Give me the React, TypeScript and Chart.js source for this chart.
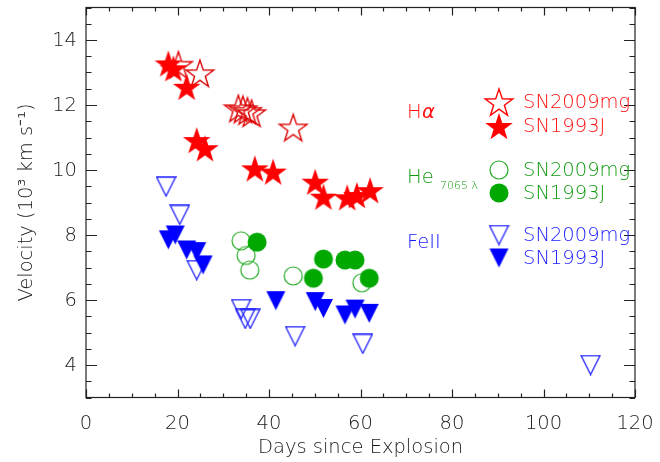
import React, { useEffect, useRef } from "react";
import { Chart, registerables } from "chart.js";

Chart.register(...registerables);

// ---------- data ----------
const haMgDays = [20.2, 24.9, 33.3, 34.3, 35.3, 36.2, 45.3];
const haMgVel = [13.24, 12.98, 11.9, 11.87, 11.82, 11.75, 11.31];
const haJDays = [18.0, 19.1, 22.0, 24.2, 26.0, 36.9, 40.9, 50.1, 51.9, 57.1, 59.2, 62.1];
const haJVel = [13.28, 13.13, 12.56, 10.92, 10.67, 10.05, 9.95, 9.64, 9.18, 9.16, 9.23, 9.38];

const heMgDays = [33.9, 35.0, 35.8, 45.3, 60.3];
const heMgVel = [7.82, 7.37, 6.92, 6.74, 6.53];
const heJDays = [37.4, 49.7, 51.9, 56.6, 58.8, 61.9];
const heJVel = [7.78, 6.67, 7.26, 7.23, 7.23, 6.67];

const feMgDays = [17.5, 20.5, 24.2, 33.9, 34.8, 35.9, 45.7, 60.5, 110.3];
const feMgVel = [9.49, 8.62, 6.92, 5.72, 5.42, 5.42, 4.89, 4.65, 4.0];
const feJDays = [18.0, 19.5, 22.0, 24.2, 25.6, 41.5, 50.1, 51.9, 56.6, 58.8, 61.9];
const feJVel = [7.85, 8.0, 7.54, 7.49, 7.08, 5.98, 5.95, 5.74, 5.54, 5.72, 5.59];

const xTickLabels = [0, 20, 40, 60, 80, 100, 120];
const yTickLabels = [4, 6, 8, 10, 12, 14];
const xTitle = "Days since Explosion";
const yTitle = "Velocity (10³ km s⁻¹)";
const legendNames = ["SN2009mg", "SN1993J"];

// ---------- colours ----------
const RED = "#ff0000";
const RED_OPEN = "#dd0000";
const GREEN = "#00a800";
const GREEN_OPEN = "#22aa22";
const BLUE = "#0000ff";
const BLUE_OPEN = "#2222ff";
const TEXT = "#1a1a1a";
const FONT = "'DejaVu Sans', sans-serif";

// ---------- marker images ----------
function starCanvas(filled: boolean, color: string) {
  const R = 14.5;
  const size = 32;
  const c = document.createElement("canvas");
  c.width = size;
  c.height = size;
  const ctx = c.getContext("2d")!;
  const cx = size / 2;
  const cy = size / 2 + 1.5;
  const r = R * 0.39;
  ctx.beginPath();
  for (let i = 0; i < 10; i++) {
    const rad = i % 2 === 0 ? R : r;
    const a = -Math.PI / 2 + (i * Math.PI) / 5;
    const x = cx + rad * Math.cos(a);
    const y = cy + rad * Math.sin(a);
    if (i === 0) ctx.moveTo(x, y);
    else ctx.lineTo(x, y);
  }
  ctx.closePath();
  if (filled) {
    ctx.fillStyle = color;
    ctx.fill();
  } else {
    ctx.strokeStyle = color;
    ctx.lineWidth = 1.4;
    ctx.lineJoin = "miter";
    ctx.stroke();
  }
  return c;
}

function triCanvas(filled: boolean, color: string) {
  const w = 19;
  const h = 19;
  const c = document.createElement("canvas");
  c.width = w + 2;
  c.height = h + 2;
  const ctx = c.getContext("2d")!;
  ctx.beginPath();
  ctx.moveTo(1, 1);
  ctx.lineTo(w + 1, 1);
  ctx.lineTo(w / 2 + 1, h + 1);
  ctx.closePath();
  if (filled) {
    ctx.fillStyle = color;
    ctx.fill();
  } else {
    ctx.strokeStyle = color;
    ctx.lineWidth = 1.3;
    ctx.stroke();
  }
  return c;
}

function circCanvas(filled: boolean, color: string) {
  const r = 9.5;
  const c = document.createElement("canvas");
  c.width = 22;
  c.height = 22;
  const ctx = c.getContext("2d")!;
  ctx.beginPath();
  ctx.arc(11, 11, filled ? r : r - 0.5, 0, Math.PI * 2);
  if (filled) {
    ctx.fillStyle = color;
    ctx.fill();
  } else {
    ctx.strokeStyle = color;
    ctx.lineWidth = 1.2;
    ctx.stroke();
  }
  return c;
}

function pts(xs: number[], ys: number[]) {
  return xs.map((x, i) => ({ x, y: ys[i] }));
}

export default function App() {
  const ref = useRef<HTMLCanvasElement | null>(null);

  useEffect(() => {
    document.body.style.margin = "0";
    const canvas = ref.current!;
    const m = {
      starF: starCanvas(true, RED),
      starO: starCanvas(false, RED_OPEN),
      circF: circCanvas(true, GREEN),
      circO: circCanvas(false, GREEN_OPEN),
      triF: triCanvas(true, BLUE),
      triO: triCanvas(false, BLUE_OPEN),
      starOL: starCanvas(false, RED),
    };

    const framePlugin = {
      id: "idlFrame",
      afterDraw(chart: any) {
        const ctx = chart.ctx as CanvasRenderingContext2D;
        const { left, right, top, bottom } = chart.chartArea;
        const xs = chart.scales.x;
        const ys = chart.scales.y;
        ctx.save();
        ctx.strokeStyle = "#222";
        ctx.lineWidth = 1.2;
        ctx.strokeRect(left, top, right - left, bottom - top);
        ctx.beginPath();
        for (let v = 0; v <= 120; v += 5) {
          const px = Math.round(xs.getPixelForValue(v)) + 0.5;
          const len = v % 20 === 0 ? 8 : 4;
          ctx.moveTo(px, bottom);
          ctx.lineTo(px, bottom - len);
          ctx.moveTo(px, top);
          ctx.lineTo(px, top + len);
        }
        for (let v = 3; v <= 15.001; v += 0.5) {
          const py = Math.round(ys.getPixelForValue(v)) + 0.5;
          const len = Math.abs(v % 2) < 1e-6 ? 11 : 5.5;
          ctx.moveTo(left, py);
          ctx.lineTo(left + len, py);
          ctx.moveTo(right, py);
          ctx.lineTo(right - len, py);
        }
        ctx.stroke();

        // tick labels
        ctx.fillStyle = TEXT;
        ctx.font = `300 19.5px ${FONT}`;
        ctx.textAlign = "center";
        ctx.textBaseline = "middle";
        xTickLabels.forEach((v) => {
          ctx.fillText(String(v), xs.getPixelForValue(v), 424);
        });
        ctx.textAlign = "right";
        yTickLabels.forEach((v) => {
          ctx.fillText(String(v), left - 9, ys.getPixelForValue(v) + 1);
        });

        // titles
        ctx.textAlign = "center";
        ctx.fillText(xTitle, (left + right) / 2, 448);
        ctx.save();
        ctx.translate(27, (top + bottom) / 2);
        ctx.rotate(-Math.PI / 2);
        ctx.fillText(yTitle, 0, 0);
        ctx.restore();

        // legend
        const mx = 499;
        const tx = 523;
        const drawM = (img: HTMLCanvasElement, y: number) =>
          ctx.drawImage(img, mx - img.width / 2, y - img.height / 2);
        const rows = [
          { y1: 102, y2: 126, o: m.starOL, f: m.starF, color: "#ff1010" },
          { y1: 170, y2: 193, o: m.circO, f: m.circF, color: "#109a10" },
          { y1: 235, y2: 258, o: m.triO, f: m.triF, color: "#1a1aff" },
        ];
        ctx.textAlign = "left";
        ctx.font = `300 19.5px ${FONT}`;
        rows.forEach((r) => {
          drawM(r.o, r.y1);
          drawM(r.f, r.y2);
          ctx.fillStyle = r.color;
          ctx.fillText(legendNames[0], tx, r.y1 + 1);
          ctx.fillText(legendNames[1], tx, r.y2 + 1);
        });
        // line labels
        ctx.fillStyle = "#ff1010";
        ctx.fillText("H", 407, 113);
        ctx.font = `italic 300 19.5px ${FONT}`;
        ctx.fillText("α", 422, 113);
        ctx.font = `300 19.5px ${FONT}`;
        ctx.fillStyle = "#109a10";
        ctx.fillText("He", 407, 178);
        ctx.font = `300 11px ${FONT}`;
        ctx.fillText("7065 λ", 440, 186);
        ctx.font = `300 19.5px ${FONT}`;
        ctx.fillStyle = "#1a1aff";
        ctx.fillText("FeII", 407, 243);
        ctx.restore();
      },
    };

    const ds = (label: string, xs: number[], ys: number[], img: HTMLCanvasElement) => ({
      label,
      data: pts(xs, ys),
      pointStyle: img,
      showLine: false,
    });

    const chart = new Chart(canvas, {
      type: "scatter",
      data: {
        datasets: [
          ds("Hα SN1993J", haJDays, haJVel, m.starF),
          ds("He SN1993J", heJDays, heJVel, m.circF),
          ds("FeII SN1993J", feJDays, feJVel, m.triF),
          ds("Hα SN2009mg", haMgDays, haMgVel, m.starO),
          ds("He SN2009mg", heMgDays, heMgVel, m.circO),
          ds("FeII SN2009mg", feMgDays, feMgVel, m.triO),
        ],
      },
      options: {
        responsive: false,
        animation: false,
        devicePixelRatio: 1,
        layout: { padding: { left: 86, right: 25, top: 7.5, bottom: 64.5 } },
        plugins: {
          legend: { display: false },
          tooltip: { enabled: false },
        },
        scales: {
          x: { type: "linear", min: 0, max: 120, display: false },
          y: { type: "linear", min: 3, max: 15, display: false },
        },
      },
      plugins: [framePlugin],
    });
    return () => chart.destroy();
  }, []);

  return (
    <div style={{ position: "relative", width: 660, height: 462, background: "#fff" }}>
      <canvas ref={ref} width={660} height={462} style={{ display: "block" }} />
    </div>
  );
}
